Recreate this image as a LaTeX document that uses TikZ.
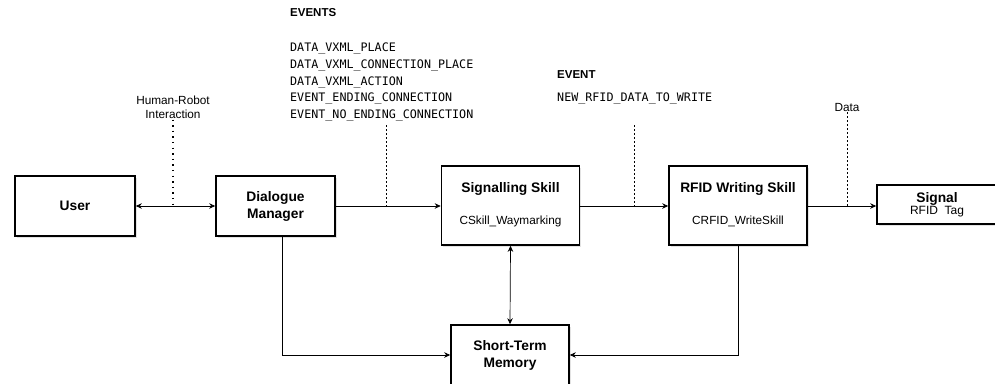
\documentclass[tikz,border=0pt]{standalone}
\usepackage{fontspec}
\setmainfont{Liberation Sans}
\newfontfamily\evfont{DejaVu Sans Mono}
\usetikzlibrary{arrows.meta,shadows}

\begin{document}
\begin{tikzpicture}[x=1pt,y=-1pt,
  blk/.style={draw, line width=1.6pt, fill=white, align=center, inner sep=0pt,
    drop shadow={shadow xshift=1.8pt, shadow yshift=-1.8pt, fill=black!22}},
  ttl/.style={font=\fontsize{13.8}{17}\selectfont\bfseries},
  sub/.style={font=\fontsize{11.8}{14}\selectfont},
  evt/.style={font=\evfont\fontsize{11.7}{13}\selectfont, anchor=west, inner sep=0pt},
  con/.style={line width=0.7pt, -{Stealth[length=6pt,width=5.5pt]}},
  bicon/.style={line width=0.7pt, {Stealth[length=6pt,width=5.5pt]}-{Stealth[length=6pt,width=5.5pt]}},
  dsh/.style={line width=0.6pt, dash pattern=on 2pt off 2pt},
  dts/.style={line width=1.4pt, dash pattern=on 1.4pt off 4.2pt}]
\useasboundingbox (0,0) rectangle (995,383);

% blocks
\node[blk, ttl, minimum width=120pt, minimum height=60pt] (user) at (75,206) {User};
\node[blk, ttl, minimum width=119pt, minimum height=60pt] (dm) at (275.5,206) {Dialogue\\Manager};
\node[blk, minimum width=138pt, minimum height=79pt] (sig) at (510.5,205.5) {};
\node[ttl] (sigt) at (510.5,189) {Signalling Skill};
\node[sub] (sigs) at (510.5,221) {CSkill\_Waymarking};
\node[blk, minimum width=138pt, minimum height=79pt] (rfid) at (738,205.5) {};
\node[ttl] (rfidt) at (738,189) {RFID Writing Skill};
\node[sub] (rfids) at (738,221) {CRFID\_WriteSkill};
\node[blk, minimum width=120pt, minimum height=39pt] (tag) at (937,204.5) {\textbf{\fontsize{13.8}{15}\selectfont Signal}\\\fontsize{12}{15}\selectfont RFID~~Tag};
\node[blk, ttl, minimum width=118pt, minimum height=60pt] (stm) at (510,355) {Short-Term\\Memory};

% event labels
\node[anchor=west, inner sep=0pt, font=\fontsize{11.5}{13}\selectfont\bfseries] (evhead) at (290,13) {EVENTS};
\node[evt] (ev1) at (290,49) {DATA\_VXML\_PLACE};
\node[evt] (ev2) at (290,66) {DATA\_VXML\_CONNECTION\_PLACE};
\node[evt] (ev3) at (290,82.5) {DATA\_VXML\_ACTION};
\node[evt] (ev4) at (290,99) {EVENT\_ENDING\_CONNECTION};
\node[evt] (ev5) at (290,116) {EVENT\_NO\_ENDING\_CONNECTION};
\node[anchor=west, inner sep=0pt, font=\fontsize{11.5}{13}\selectfont\bfseries] (evhead2) at (557,75) {EVENT};
\node[evt] (ev6) at (557,99) {NEW\_RFID\_DATA\_TO\_WRITE};
\node[sub, align=center, inner sep=1pt] (hrilbl) at (173,107) {Human-Robot\\Interaction};
\node[sub, inner sep=1pt] (datalbl) at (847,107) {Data};

% taps on the connectors
\coordinate (hri) at (173,206);
\coordinate (evtap) at (386,206);
\coordinate (evtop) at (386,125);
\coordinate (nwtap) at (634,206);
\coordinate (nwtop) at (634,125);
\coordinate (datatap) at (847,206);

% connectors
\draw[bicon](user.east) -- (dm.west);
\draw[con](dm.east) -- (dm.east -| sig.west);
\draw[con](dm.east -| sig.east) -- (dm.east -| rfid.west);
\draw[con](dm.east -| rfid.east) -- (dm.east -| tag.west);
\draw[bicon](sig.south) -- (stm.north);
\draw[con]([xshift=7pt]dm.south) |- (stm.west);
\draw[con](rfid.south) |- (stm.east);
\draw[dts](hrilbl.south) -- (hri);
\draw[dsh](evtop) -- (evtap);
\draw[dsh](nwtop) -- (nwtap);
\draw[dsh](datalbl.south) -- (datatap);

\end{tikzpicture}
\end{document}
